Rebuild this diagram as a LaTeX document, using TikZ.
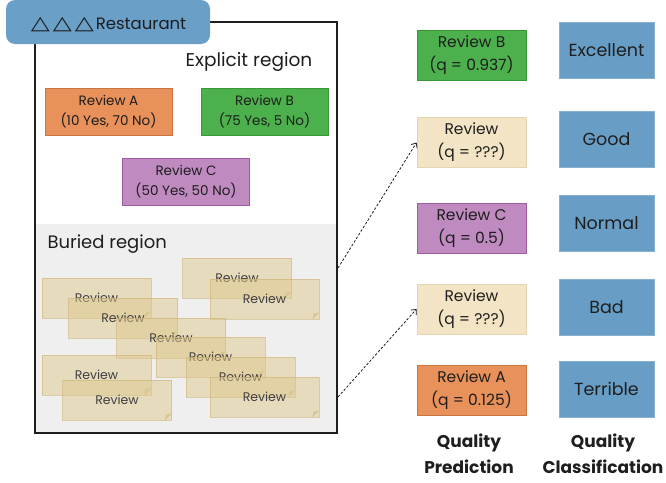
\documentclass[tikz,border=0pt]{standalone}
\usepackage{fontspec}
\setmainfont{Poppins}
\newfontfamily\symfont{DejaVu Sans}
\usetikzlibrary{arrows.meta}
\definecolor{tabblue}{RGB}{106,159,200}
\definecolor{clsblue}{RGB}{104,158,198}
\definecolor{orfill}{RGB}{232,145,90}
\definecolor{ordraw}{RGB}{200,118,66}
\definecolor{orfold}{RGB}{185,100,50}
\definecolor{grfill}{RGB}{76,176,76}
\definecolor{grdraw}{RGB}{56,152,56}
\definecolor{grfold}{RGB}{25,115,25}
\definecolor{pufill}{RGB}{191,138,191}
\definecolor{pudraw}{RGB}{160,92,160}
\definecolor{pufold}{RGB}{135,65,135}
\definecolor{tnfill}{RGB}{242,228,196}
\definecolor{tndraw}{RGB}{228,212,176}
\definecolor{tnfold}{RGB}{200,178,130}
\definecolor{bufill}{RGB}{222,200,140}
\definecolor{budraw}{RGB}{205,180,120}
\definecolor{buried}{RGB}{239,239,239}
\definecolor{ink}{RGB}{30,30,30}
% one wide rating triangle
\newcommand{\ratetri}{\scalebox{1.3}[1]{\symfont\fontsize{19}{20}\selectfont △}}
\tikzset{
  % sticky note with a folded bottom-right corner
  fold/.style 2 args={append after command={\pgfextra{\let\fnode\tikzlastnode
    \fill[#1] ([xshift=1pt,yshift=-1pt]\fnode.south east) -- ([xshift=-8.5pt,yshift=-1pt]\fnode.south east)
      -- ([xshift=1pt,yshift=8.5pt]\fnode.south east) -- cycle;
    \fill[#2] ([xshift=-8pt]\fnode.south east) -- ([yshift=8pt]\fnode.south east)
      -- ([xshift=-6.5pt,yshift=6.5pt]\fnode.south east) -- cycle;}}},
  note/.style n args={4}{draw=#2, fill=#1, line width=0.8pt, inner sep=0pt,
    align=center, text=ink, fold={#4}{#3}},
  expl/.style={minimum width=127pt, minimum height=47pt, font=\fontsize{13.5}{20}\selectfont},
  pred/.style={minimum width=109pt, minimum height=50pt, font=\fontsize{15.5}{23}\selectfont},
  bnote/.style={draw=budraw, fill=bufill, fill opacity=0.5, draw opacity=0.6, text opacity=1,
    text=ink!85, line width=0.6pt, minimum width=109pt, minimum height=40pt, inner sep=0pt,
    font=\fontsize{12.5}{14}\selectfont,
    append after command={\pgfextra{\let\fnode\tikzlastnode
      \fill[tnfold, opacity=0.8] ([xshift=-7pt]\fnode.south east) -- ([yshift=7pt]\fnode.south east)
        -- ([xshift=-5.5pt,yshift=5.5pt]\fnode.south east) -- cycle;}}},
  cls/.style={fill=clsblue, draw=clsblue!80!white, line width=0.5pt, minimum width=95pt,
    minimum height=56pt, inner sep=0pt, text=ink, font=\fontsize{17.5}{20}\selectfont},
  head/.style={align=center, text=ink, font=\bfseries\fontsize{17}{26}\selectfont},
  link/.style={draw=ink, line width=0.8pt, dash pattern=on 2.5pt off 1.8pt,
    -{Straight Barb[length=4pt,width=7pt]}}
}
\begin{document}
\begin{tikzpicture}[x=1pt,y=-1pt]
\useasboundingbox (0,0) rectangle (666,482);

% restaurant panel with its explicit and buried regions
\fill[white] (35,22) rectangle (337,433);
\fill[buried] (35,224) rectangle (337,433);
\node[draw=ink, line width=1.2pt, minimum width=302pt, minimum height=411pt, inner sep=0pt]
  (rest) at (186,227.5) {};
\node[fill=tabblue, rounded corners=9pt, minimum width=204pt, minimum height=44pt, inner sep=0pt]
  (tab) at (108,22) {};
\node[text=ink, font=\fontsize{16.5}{18}\selectfont, inner sep=0pt] (tabtext) at (108.5,24.5)
  {\ratetri\hspace{3pt}\ratetri\hspace{3pt}\ratetri\hspace{2pt}Restaurant};

\node[text=ink, font=\fontsize{18.5}{20}\selectfont] (explicit) at (249,62) {Explicit region};
\node[text=ink, font=\fontsize{18}{20}\selectfont, anchor=west] (buriedlbl) at (44,244) {Buried region};

% explicit reviews
\node[note={orfill}{ordraw}{orfold}{white}, expl] (ra) at (108.5,111.5) {Review A\\(10 Yes, 70 No)};
\node[note={grfill}{grdraw}{grfold}{white}, expl] (rb) at (264.5,111.5) {Review B\\(75 Yes, 5 No)};
\node[note={pufill}{pudraw}{pufold}{white}, expl] (rc) at (186,182) {Review C\\(50 Yes, 50 No)};

% buried reviews
\node[bnote] (b7) at (237,278) {Review};
\node[bnote] (b8) at (264.5,299) {Review};
\node[bnote] (b1) at (96.5,298) {Review};
\node[bnote] (b2) at (123,318) {Review};
\node[bnote] (b3) at (171,338) {Review};
\node[bnote] (b4) at (210.5,357) {Review};
\node[bnote] (b5) at (240.5,377) {Review};
\node[bnote] (b6) at (264.5,397) {Review};
\node[bnote] (b9) at (96.5,375) {Review};
\node[bnote] (b10) at (117,400) {Review};

% quality prediction column
\node[note={grfill}{grdraw}{grfold}{white}, pred] (pb) at (471.5,55) {Review B\\(q = 0.937)};
\node[note={tnfill}{tndraw}{tnfold}{white}, pred] (pu1) at (471.5,142.5) {Review\\(q = ???)};
\node[note={pufill}{pudraw}{pufold}{white}, pred] (pc) at (471.5,228.5) {Review C\\(q = 0.5)};
\node[note={tnfill}{tndraw}{tnfold}{white}, pred] (pu2) at (471.5,309) {Review\\(q = ???)};
\node[note={orfill}{ordraw}{orfold}{white}, pred] (pa) at (471.5,390) {Review A\\(q = 0.125)};

% quality classification column
\node[cls] (c1) at (606.5,50.5) {Excellent};
\node[cls] (c2) at (606.5,139.5) {Good};
\node[cls] (c3) at (606.5,223) {Normal};
\node[cls] (c4) at (606.5,307) {Bad};
\node[cls] (c5) at (606.5,389) {Terrible};

\node[head] (hp) at (469,454) {Quality\\Prediction};
\node[head] (hc) at (603,454) {Quality\\Classification};

% buried reviews sent to the predictor
\coordinate (s1) at (338,268);
\coordinate (s2) at (338,397);
\draw[link] (s1) -- (pu1.west);
\draw[link] (s2) -- (pu2.west);
\end{tikzpicture}
\end{document}
